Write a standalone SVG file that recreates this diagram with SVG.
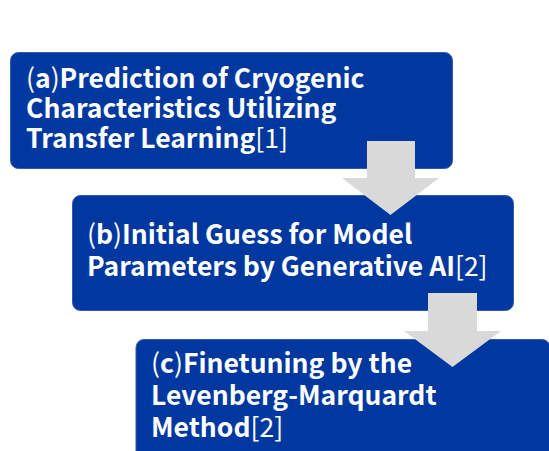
<svg xmlns="http://www.w3.org/2000/svg" width="549" height="451" viewBox="0 0 549 451">
<style>
.box{fill:#0038a0;stroke:#3459b0;stroke-width:1}
.t{fill:#ffffff;font-family:"Noto Sans CJK JP","Noto Sans",sans-serif;font-weight:700;font-size:26.5px}
.l{font-weight:400}
.arr{fill:#d9d9d9}
</style>
<rect width="549" height="451" fill="#ffffff"/>
<g id="node-a">
<rect class="box" x="10.5" y="52.5" width="442" height="116" rx="8"/>
<text class="t" x="26" y="88"><tspan class="l">(</tspan><tspan>a</tspan><tspan class="l">)</tspan><tspan>Prediction of Cryogenic</tspan></text>
<text class="t" x="26" y="118">Characteristics Utilizing</text>
<text class="t" x="26" y="148"><tspan>Transfer Learning</tspan><tspan class="l">[1]</tspan></text>
</g>
<g id="node-b">
<rect class="box" x="72.5" y="195.5" width="441" height="115" rx="8"/>
<text class="t" x="87" y="244"><tspan class="l">(</tspan><tspan>b</tspan><tspan class="l">)</tspan><tspan>Initial Guess for Model</tspan></text>
<text class="t" x="87" y="276"><tspan>Parameters by Generative AI</tspan><tspan class="l">[2]</tspan></text>
</g>
<g id="node-c">
<rect class="box" x="136" y="339.5" width="414" height="130" rx="8"/>
<text class="t" x="151" y="373"><tspan class="l">(</tspan><tspan>c</tspan><tspan class="l">)</tspan><tspan>Finetuning by the</tspan></text>
<text class="t" x="151" y="405">Levenberg-Marquardt</text>
<text class="t" x="151" y="437"><tspan>Method</tspan><tspan class="l">[2]</tspan></text>
</g>
<g id="connectors">
<polygon class="arr" points="367,141 415,141 415,178 439,178 390.5,215 342,178 367,178"/>
<polygon class="arr" points="428,293 477,293 477,331 501,331 452.5,367 404,331 428,331"/>
</g>
</svg>
